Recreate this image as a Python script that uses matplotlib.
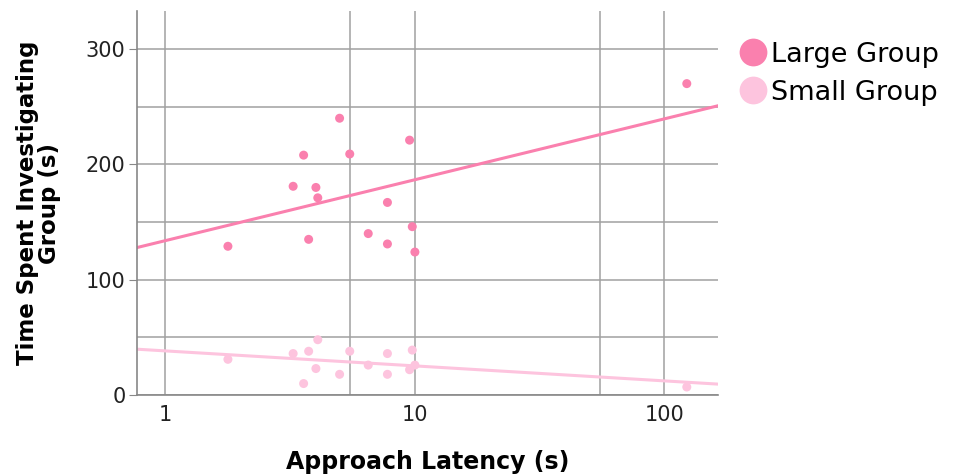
import numpy as np
import matplotlib
matplotlib.use("Agg")
import matplotlib.pyplot as plt
from matplotlib.lines import Line2D

# approach latency (s) and time spent investigating (s)
latency = [1.78, 3.25, 3.58, 3.75, 4.01, 4.08, 4.99, 5.48, 6.50, 7.76, 7.76, 9.52, 9.76, 10.0, 123.0]
large_group = [129, 181, 208, 135, 180, 171, 240, 209, 140, 167, 131, 221, 146, 124, 270]
small_group = [31, 36, 10, 38, 23, 48, 18, 38, 26, 36, 18, 22, 39, 26, 7]

large_col = "#fa80ae"
small_col = "#fdc4de"

fig = plt.figure(figsize=(9.56, 4.76), dpi=100)
ax = fig.add_axes([0.143, 0.170, 0.608, 0.807])

ax.scatter(latency, large_group, s=42, color=large_col, edgecolors="none", zorder=3)
ax.scatter(latency, small_group, s=42, color=small_col, edgecolors="none", zorder=3)

# fit lines on log scale
xx = np.logspace(np.log10(0.767), np.log10(164), 50)
for ys, c in [(large_group, large_col), (small_group, small_col)]:
    b, a = np.polyfit(np.log10(latency), ys, 1)
    ax.plot(xx, a + b * np.log10(xx), color=c, lw=2.2, zorder=2)

ax.set_xscale("log")
ax.set_xlim(0.767, 164)
ax.set_ylim(0, 333)
ax.set_xticks([1, 10, 100])
ax.set_xticklabels(["1", "10", "100"])
ax.set_xticks([5.5, 55], minor=True)
ax.tick_params(axis="x", which="minor", length=0)
ax.set_yticks([0, 100, 200, 300])
ax.set_yticks([50, 150, 250], minor=True)
ax.tick_params(axis="y", which="minor", length=0)
ax.tick_params(axis="both", which="major", labelsize=15, color="#888888", length=6, labelcolor="#222222")
ax.tick_params(axis="x", which="major", length=0, pad=7)
ax.tick_params(axis="y", which="major", pad=2)

ax.grid(True, which="both", color="#a0a0a0", lw=1.1, zorder=0)
ax.set_axisbelow(True)
for s in ["top", "right"]:
    ax.spines[s].set_visible(False)
for s in ["left", "bottom"]:
    ax.spines[s].set_color("#888888")
    ax.spines[s].set_linewidth(1.2)

ax.set_xlabel("Approach Latency (s)", fontsize=17, fontweight="bold", labelpad=18)
ax.set_ylabel("Time Spent Investigating\nGroup (s)", fontsize=16.5, fontweight="bold", labelpad=18,
              linespacing=0.95)

handles = [Line2D([], [], marker="o", ls="", ms=20, color=large_col, mec="none"),
           Line2D([], [], marker="o", ls="", ms=20, color=small_col, mec="none")]
fig.legend(handles, ["Large Group", "Small Group"], loc="upper left", bbox_to_anchor=(0.756, 0.935),
           frameon=False, fontsize=19.5, handletextpad=0.0, labelspacing=0.45, borderaxespad=0,
           handlelength=1.4)

fig.savefig("out.png", dpi=100)
